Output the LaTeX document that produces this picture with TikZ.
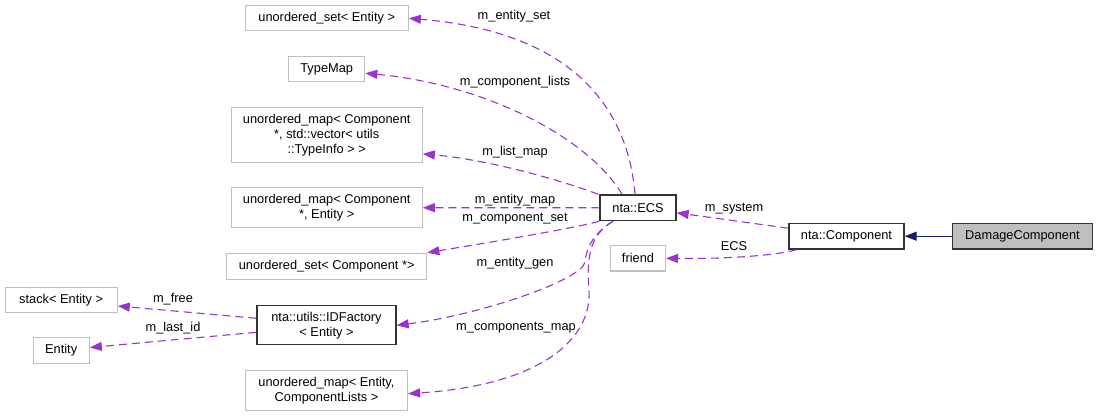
\documentclass[tikz,border=0pt]{standalone}
\usepackage{fontspec}
\setmainfont{Liberation Sans}
\usetikzlibrary{arrows.meta,calc}
\definecolor{memline}{HTML}{9A32CD}
\definecolor{inhline}{HTML}{191970}
\definecolor{extgrey}{HTML}{BFBFBF}
\definecolor{selfill}{HTML}{BFBFBF}
\newcommand{\dfont}{\fontsize{12.8}{15}\selectfont}

\begin{document}
\begin{tikzpicture}[x=1pt,y=-1pt,
  ext/.style={draw=extgrey,fill=white,line width=1.3pt,inner sep=0pt,align=center,font=\dfont},
  doc/.style={draw=black!80,fill=white,line width=1.3pt,inner sep=0pt,align=center,font=\dfont},
  mem/.style={-{Triangle[length=12pt,width=9pt]},dash pattern=on 8pt off 5pt,line width=1.1pt,color=memline},
  inh/.style={-{Triangle[length=12pt,width=9pt]},line width=1.1pt,color=inhline},
  lbl/.style={font=\dfont,inner sep=0pt}]
  \useasboundingbox (0,0) rectangle (1097,417);
  % member types on the left
  \node[ext,minimum width=163pt,minimum height=25pt] (uset) at (326.7,18.3) {unordered\_set< Entity >};
  \node[ext,minimum width=76pt,minimum height=25pt] (typemap) at (326.7,69.2) {TypeMap};
  \node[ext,minimum width=191pt,minimum height=55pt] (umap1) at (326.7,134.7) {unordered\_map< Component\\*, std::vector< utils\\::TypeInfo > >};
  \node[ext,minimum width=191pt,minimum height=40pt] (umap2) at (326.7,207.7) {unordered\_map< Component\\*, Entity >};
  \node[ext,minimum width=200pt,minimum height=26pt] (usetcomp) at (326.7,266.3) {unordered\_set< Component *>};
  \node[doc,minimum width=139pt,minimum height=39pt] (idfactory) at (326.5,325.3) {nta::utils::IDFactory\\< Entity >};
  \node[ext,minimum width=162pt,minimum height=40pt] (umapec) at (326.5,390.7) {unordered\_map< Entity,\\ComponentLists >};
  \node[ext,minimum width=112pt,minimum height=25pt] (stack) at (61.2,300) {stack< Entity >};
  \node[ext,minimum width=56pt,minimum height=25.6pt] (entity) at (61.2,350.5) {Entity};
  % classes on the right
  \node[doc,minimum width=76pt,minimum height=25.7pt] (ecs) at (638,207.8) {nta::ECS};
  \node[ext,minimum width=54.7pt,minimum height=25.3pt] (friend) at (638,258.3) {friend};
  \node[doc,minimum width=115pt,minimum height=25.7pt] (comp) at (846.5,236.2) {nta::Component};
  \node[doc,fill=selfill,minimum width=139.7pt,minimum height=25.7pt] (dmg) at (1022.5,236.2) {DamageComponent};
  % members of nta::ECS
  \draw[mem] ([xshift=-3pt]ecs.north) .. controls (628,110) and (575,32) .. (uset.east);
  \draw[mem] ([xshift=-16pt]ecs.north) .. controls (590,140) and (490,85) .. ([yshift=-4pt]typemap.east);
  \draw[mem] ([xshift=-1pt]ecs.north west) .. controls (560,180) and (490,160) .. ([yshift=9pt]umap1.south east);
  \draw[mem] (ecs.west) -- (umap2.east);
  \draw[mem] (ecs.south west) .. controls (570,229) and (480,244) .. (usetcomp.north east);
  \draw[mem] ([xshift=-25pt]ecs.south) .. controls (592,234) and (586,250) .. (585,262)
    .. controls (582,280) and (480,315) .. (idfactory.east);
  \draw[mem] ([xshift=-25pt]ecs.south) .. controls (592,234) and (586,252) .. (589,290)
    .. controls (592,340) and (540,385) .. ([yshift=-3pt]umapec.east);
  \draw[mem] ([yshift=8pt]comp.west) -- ([yshift=-5pt]ecs.east);
  \draw[mem] ([xshift=8pt]comp.south west) .. controls (775,256) and (720,259) .. (friend.east);
  \draw[mem] ([yshift=7pt]idfactory.west) -- ([yshift=-6pt]stack.east);
  \draw[mem] ([yshift=-7pt]idfactory.west) -- ([yshift=3pt]entity.east);
  \draw[inh] (dmg.west) -- (comp.east);
  % edge labels
  \node[lbl] (lset) at (514,16) {m\_entity\_set};
  \node[lbl] (llists) at (515,82) {m\_component\_lists};
  \node[lbl] (llistmap) at (515,152) {m\_list\_map};
  \node[lbl] (lentmap) at (515,200) {m\_entity\_map};
  \node[lbl] (lcompset) at (515,219) {m\_component\_set};
  \node[lbl] (lgen) at (515,263) {m\_entity\_gen};
  \node[lbl] (lcompmap) at (516,328) {m\_components\_map};
  \node[lbl] (lsystem) at (734,209) {m\_system};
  \node[lbl] (lfriend) at (734,246) {ECS};
  \node[lbl] (lfree) at (173,299) {m\_free};
  \node[lbl] (llast) at (173,328) {m\_last\_id};
\end{tikzpicture}
\end{document}
